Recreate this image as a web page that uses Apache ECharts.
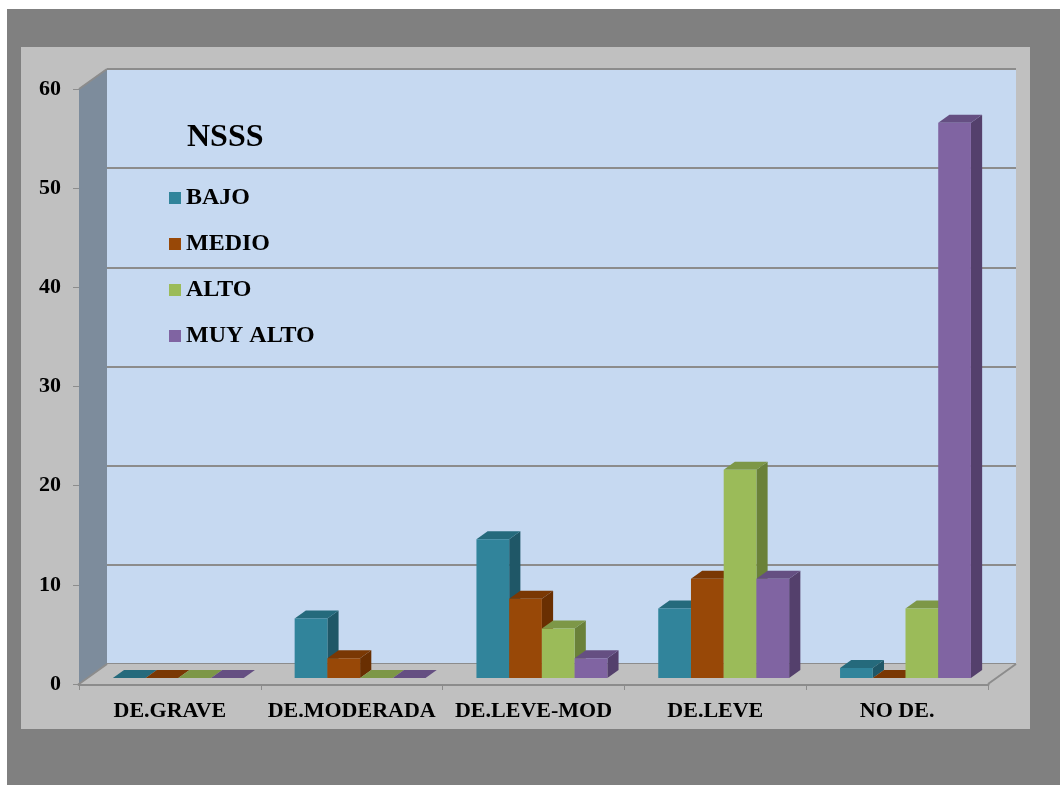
<!DOCTYPE html>
<html><head><meta charset="utf-8">
<script src="https://cdn.jsdelivr.net/npm/echarts@6/dist/echarts.min.js"></script>
<style>html,body{margin:0;padding:0;background:#fff}#c{width:1060px;height:785px}</style>
</head><body><div id="c"></div>
<script>
const categories = ['DE.GRAVE', 'DE.MODERADA', 'DE.LEVE-MOD', 'DE.LEVE', 'NO DE.'];
const seriesNames = ['BAJO', 'MEDIO', 'ALTO', 'MUY ALTO'];
const bajo = [0, 6, 14, 7, 1];
const medio = [0, 2, 8, 10, 0];
const alto = [0, 0, 5, 21, 7];
const muyAlto = [0, 0, 2, 10, 56];
const yMin = 0, yMax = 60, yStep = 10;
const legendTitle = 'NSSS';

const seriesValues = [bajo, medio, alto, muyAlto];
const frontCol = ['#31849B', '#984807', '#9BBB59', '#8064A2'];
const topCol   = ['#256A7C', '#7A3804', '#7D9747', '#654F82'];
const sideCol  = ['#1F5767', '#692F02', '#6A8139', '#54406C'];
const DX = 28, DY = -20;
const FONT = "'Liberation Serif','Times New Roman',serif";

const chart = echarts.init(document.getElementById('c'), null, {renderer: 'canvas'});

function barRender(sIdx) {
  return function (params, api) {
    const ci = api.value(0), v = api.value(1);
    const p0 = api.coord([ci, 0]), p1 = api.coord([ci, v]);
    const catW = api.size([1, 0])[0];
    const bw = catW * 0.18;
    const ox = DX * 0.3, oy = DY * 0.3, dx = DX * 0.4, dy = DY * 0.4;
    const x0 = p0[0] - 2 * bw + sIdx * bw + ox;
    const x1 = x0 + bw;
    const yb = p0[1] + oy, yt = p1[1] + oy;
    return {type: 'group', children: [
      {type: 'polygon', shape: {points: [[x1, yt], [x1 + dx, yt + dy], [x1 + dx, yb + dy], [x1, yb]]}, style: {fill: sideCol[sIdx]}},
      {type: 'polygon', shape: {points: [[x0, yt], [x1, yt], [x1 + dx, yt + dy], [x0 + dx, yt + dy]]}, style: {fill: topCol[sIdx]}},
      {type: 'rect', shape: {x: x0, y: yt, width: bw, height: Math.max(0, yb - yt)}, style: {fill: frontCol[sIdx]}}
    ]};
  };
}

function frameRender(params, api) {
  const a = api.coord([0, yMin]);
  const catW = api.size([1, 0])[0];
  const left = a[0] - catW / 2;
  const right = left + catW * categories.length;
  const yTop = api.coord([0, yMax])[1];
  const y0 = a[1];
  const ln = '#8C8C8C';
  return {type: 'group', children: [
    {type: 'polygon', shape: {points: [[left, yTop], [left + DX, yTop + DY], [left + DX, y0 + DY], [left, y0]]}, style: {fill: '#7D8C9C'}},
    {type: 'polygon', shape: {points: [[left, y0], [left + DX, y0 + DY], [right + DX, y0 + DY], [right, y0]]}, style: {fill: '#C0C0C0'}},
    {type: 'line', shape: {x1: left, y1: yTop, x2: left + DX, y2: yTop + DY}, style: {stroke: ln, lineWidth: 2}},
    {type: 'line', shape: {x1: left, y1: y0, x2: left + DX, y2: y0 + DY}, style: {stroke: ln, lineWidth: 2}},
    {type: 'line', shape: {x1: right, y1: y0, x2: right + DX, y2: y0 + DY}, style: {stroke: ln, lineWidth: 2}}
  ]};
}

const series = [{
  type: 'custom', name: '_frame', xAxisIndex: 0, yAxisIndex: 0, z: 1,
  renderItem: frameRender, data: [[0, 0]], silent: true
}];
seriesNames.forEach(function (n, i) {
  series.push({
    type: 'custom', name: n, xAxisIndex: 0, yAxisIndex: 0, z: 3,
    itemStyle: {color: frontCol[i]},
    renderItem: barRender(i),
    data: seriesValues[i].map(function (v, k) { return [k, v]; })
  });
});

chart.setOption({
  animation: false,
  backgroundColor: '#ffffff',
  graphic: [
    {type: 'rect', z: -10, shape: {x: 7, y: 9, width: 1053, height: 776}, style: {fill: '#808080'}},
    {type: 'rect', z: -9, shape: {x: 21, y: 47, width: 1009, height: 682}, style: {fill: '#C0C0C0'}}
  ],
  title: {
    text: legendTitle, left: 187, top: 122, padding: 0,
    textStyle: {fontSize: 32, fontWeight: 'bold', fontFamily: FONT, color: '#000'}
  },
  legend: {
    data: seriesNames, orient: 'vertical', left: 169, top: 186, padding: 0,
    itemWidth: 12, itemHeight: 12, itemGap: 22, icon: 'rect',
    textStyle: {fontSize: 24, fontWeight: 'bold', fontFamily: FONT, color: '#000', lineHeight: 24}
  },
  grid: [
    {left: 79, right: 72, top: 89, bottom: 101},
    {left: 79 + DX, right: 72 - DX, top: 89 + DY, bottom: 101 - DY, show: true, backgroundColor: '#C6D9F1', borderWidth: 0, z: 0}
  ],
  xAxis: [
    {type: 'category', gridIndex: 0, data: categories,
      axisLine: {lineStyle: {color: '#8C8C8C', width: 3}},
      axisTick: {show: true, length: 6, lineStyle: {color: '#8C8C8C', width: 1}},
      axisLabel: {interval: 0, margin: 16, fontSize: 22, fontWeight: 'bold', fontFamily: FONT, color: '#000'},
      splitLine: {show: false}},
    {type: 'category', gridIndex: 1, data: categories, show: false}
  ],
  yAxis: [
    {type: 'value', gridIndex: 0, min: yMin, max: yMax, interval: yStep,
      axisLine: {show: true, lineStyle: {color: '#8C8C8C', width: 1}},
      axisTick: {show: true, length: 6, lineStyle: {color: '#8C8C8C'}},
      axisLabel: {margin: 18, fontSize: 22, fontWeight: 'bold', fontFamily: FONT, color: '#000'},
      splitLine: {show: false}},
    {type: 'value', gridIndex: 1, min: yMin, max: yMax, interval: yStep,
      axisLine: {show: false}, axisTick: {show: false}, axisLabel: {show: false},
      splitLine: {show: true, lineStyle: {color: '#8C8C8C', width: 2}}}
  ],
  series: series
});
</script></body></html>
